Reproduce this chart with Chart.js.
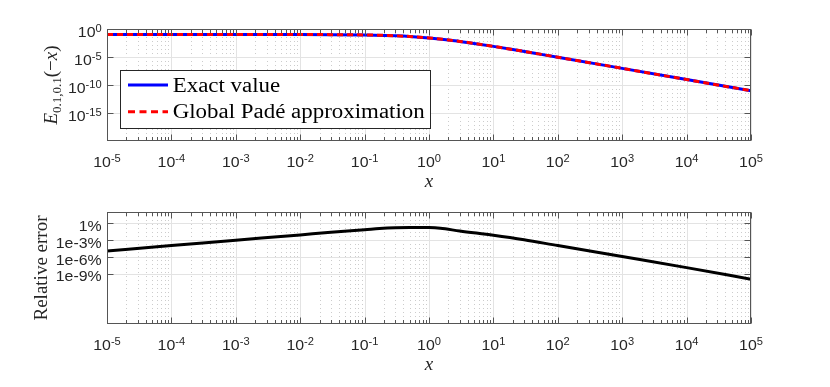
<!DOCTYPE html>
<html>
<script src="https://cdn.jsdelivr.net/npm/chart.js"></script>
<style type="text/css">
  body { margin: 0; background: #fff; }
  .panel { position: absolute; left: 0; width: 830px; }
</style>
<body>
  <div class="panel" style="top:0; height:200px"><canvas id="topChart"></canvas></div>
  <div class="panel" style="top:200px; height:187px"><canvas id="errChart"></canvas></div>

  <script>
    // tick labels
    const xTickExp = [-5, -4, -3, -2, -1, 0, 1, 2, 3, 4, 5];
    const topYTickExp = [0, -5, -10, -15];
    const errTicks = [1, 1e-3, 1e-6, 1e-9];
    const errTickLabels = ['1%', '1e-3%', '1e-6%', '1e-9%'];

    // E_{0.1,0.1}(-x)
    const xVals = [1e-5, 1e-4, 1e-3, 1e-2, 3e-2, 0.1, 0.2, 0.3, 0.5, 1, 2, 3, 5, 10, 20, 50, 100, 1e3, 1e4, 1e5];
    const exactVals = [0.1051, 0.1051, 0.1049, 0.1030, 0.0989, 0.0863, 0.0721, 0.0610, 0.0454, 0.0251, 0.0113, 0.0061, 0.00267, 7.85e-4, 2.14e-4, 3.61e-5, 9.19e-6, 9.34e-8, 9.36e-10, 9.36e-12];
    const padeVals = [0.1051, 0.1051, 0.1049, 0.1030, 0.0989, 0.0863, 0.0721, 0.0610, 0.0454, 0.0251, 0.0113, 0.0061, 0.00267, 7.85e-4, 2.14e-4, 3.61e-5, 9.19e-6, 9.34e-8, 9.36e-10, 9.36e-12];

    // relative error in %, lower panel
    const errX = [1e-5, 1e-4, 1e-3, 1e-2, 3e-2, 0.1, 0.17, 0.3, 0.5, 1, 1.5, 3, 10, 30, 100, 1e3, 1e4, 1e5];
    const errVals = [1.12e-5, 1.0e-4, 9.1e-4, 8.1e-3, 0.024, 0.066, 0.112, 0.158, 0.178, 0.166, 0.126, 0.040, 7.1e-3, 1.12e-3, 1.0e-4, 1.1e-6, 1.17e-8, 1.0e-10];

    const INK = '#262626';
    const SX = 1.06;  // the figure is a little wider than the fonts
    const TICK_FONT = '15px "Liberation Sans", Arial, Helvetica, sans-serif';
    const SUP_FONT = '10.5px "Liberation Sans", Arial, Helvetica, sans-serif';
    const SERIF = '"Liberation Serif", "Times New Roman", serif';

    const majorX = xTickExp.map(e => Math.pow(10, e));
    const minorX = [];
    majorX.slice(0, -1).forEach(d => { for (let m = 2; m < 10; m++) minorX.push(d * m); });

    function line(ctx, x0, y0, x1, y1) {
      ctx.beginPath(); ctx.moveTo(x0, y0); ctx.lineTo(x1, y1); ctx.stroke();
    }
    function widthOf(ctx, s, font, sx) {
      ctx.save(); ctx.font = font; const w = ctx.measureText(s).width * sx; ctx.restore(); return w;
    }
    function stretched(ctx, s, x, y, font, sx) {
      ctx.save();
      ctx.font = font; ctx.translate(x, y); ctx.scale(sx, 1);
      ctx.textAlign = 'left'; ctx.textBaseline = 'alphabetic';
      ctx.fillText(s, 0, 0);
      ctx.restore();
    }
    function tickLabel(ctx, base, sup, x, y, align) {
      const wb = widthOf(ctx, base, TICK_FONT, SX);
      const ws = sup ? widthOf(ctx, sup, SUP_FONT, SX) : 0;
      const x0 = align === 'center' ? x - (wb + ws) / 2 : x - wb - ws;
      stretched(ctx, base, x0, y, TICK_FONT, SX);
      if (sup) stretched(ctx, sup, x0 + wb, y - 5, SUP_FONT, SX);
    }
    function rotatedPieces(ctx, pieces, baseX, cy) {
      let total = 0;
      pieces.forEach(p => { ctx.font = p.font; p.w = ctx.measureText(p.t).width; total += p.w; });
      ctx.save();
      ctx.translate(baseX, cy); ctx.rotate(-Math.PI / 2);
      ctx.textAlign = 'left'; ctx.textBaseline = 'alphabetic';
      let x = -total / 2;
      pieces.forEach(p => { ctx.font = p.font; ctx.fillText(p.t, x, p.dy || 0); x += p.w; });
      ctx.restore();
    }

    // MATLAB-like box, grid, ticks and labels drawn from the chart's own scales
    function makeFrame(cfg) {
      return {
        id: 'frame',
        beforeDatasetsDraw(chart) {
          const { ctx, chartArea: a, scales: { x, y } } = chart;
          ctx.save();
          ctx.lineWidth = 1;
          ctx.strokeStyle = '#cccccc';
          ctx.setLineDash([1, 3]);
          minorX.forEach(v => { const px = Math.round(x.getPixelForValue(v)) + 0.5; line(ctx, px, a.top, px, a.bottom); });
          ctx.setLineDash([]);
          ctx.strokeStyle = '#e3e3e3';
          majorX.forEach(v => { const px = Math.round(x.getPixelForValue(v)) + 0.5; line(ctx, px, a.top, px, a.bottom); });
          cfg.yTicks.forEach(t => { const py = Math.round(y.getPixelForValue(t.v)) + 0.5; line(ctx, a.left, py, a.right, py); });
          ctx.restore();
        },
        afterDatasetsDraw(chart) {
          const { ctx, chartArea: a, scales: { x, y } } = chart;
          ctx.save();
          ctx.strokeStyle = '#555';
          ctx.lineWidth = 1;
          const L = Math.round(a.left) + 0.5, R = Math.round(a.right) - 0.5;
          const T = Math.round(a.top) + 0.5, B = Math.round(a.bottom) - 0.5;
          ctx.strokeRect(L, T, R - L, B - T);
          // ticks
          minorX.forEach(v => { const px = Math.round(x.getPixelForValue(v)) + 0.5; line(ctx, px, B, px, B - 3.5); line(ctx, px, T, px, T + 3.5); });
          majorX.forEach(v => { const px = Math.round(x.getPixelForValue(v)) + 0.5; line(ctx, px, B, px, B - 6); line(ctx, px, T, px, T + 6); });
          cfg.yTicks.forEach(t => { const py = Math.round(y.getPixelForValue(t.v)) + 0.5; line(ctx, L, py, L + 6, py); line(ctx, R, py, R - 6, py); });

          ctx.fillStyle = INK;
          xTickExp.forEach((e, i) => tickLabel(ctx, '10', String(e), x.getPixelForValue(majorX[i]), a.bottom + 26, 'center'));
          cfg.yTicks.forEach(t => tickLabel(ctx, t.base, t.sup, a.left - 5.3, y.getPixelForValue(t.v) + 7.7, 'right'));

          // axis titles
          ctx.font = 'italic 19px ' + SERIF;
          ctx.textAlign = 'center';
          ctx.fillText('x', (a.left + a.right) / 2, a.bottom + 46);
          rotatedPieces(ctx, cfg.yTitle, cfg.yTitleX, (a.top + a.bottom) / 2);

          if (cfg.legend) {
            const lx0 = a.left + 13.5, ly0 = a.top + 41.5, lx1 = a.left + 323.5, ly1 = a.top + 99.5;
            ctx.fillStyle = '#fff';
            ctx.fillRect(lx0, ly0, lx1 - lx0, ly1 - ly0);
            ctx.strokeStyle = INK;
            ctx.strokeRect(lx0, ly0, lx1 - lx0, ly1 - ly0);
            const ds = chart.data.datasets;
            const legFont = '20px ' + SERIF;
            const longest = ds.map(d => d.label).reduce((m, s) => s.length > m.length ? s : m, '');
            const sxLeg = 252 / widthOf(ctx, longest, legFont, 1);
            ds.forEach((d, i) => {
              const cy = a.top + 56 + i * 26.7;
              ctx.strokeStyle = d.borderColor;
              ctx.lineWidth = 3;
              ctx.setLineDash(d.legendDash || []);
              line(ctx, a.left + 21, cy, a.left + 61, cy);
              ctx.setLineDash([]);
              ctx.fillStyle = '#000';
              stretched(ctx, d.label, a.left + 65.7, cy + 6.7, legFont, sxLeg);
            });
          }
          ctx.restore();
        }
      };
    }

    const commonOptions = (pad, yMin, yMax) => ({
      responsive: true,
      maintainAspectRatio: false,
      animation: false,
      devicePixelRatio: 1,
      layout: { padding: pad },
      plugins: { legend: { display: false }, tooltip: { enabled: false } },
      elements: { point: { radius: 0 } },
      scales: {
        x: { type: 'logarithmic', min: 1e-5, max: 1e5, display: false },
        y: { type: 'logarithmic', min: yMin, max: yMax, display: false }
      }
    });

    new Chart(document.getElementById('topChart'), {
      type: 'line',
      data: {
        datasets: [{
          label: 'Exact value',
          data: xVals.map((x, i) => ({ x: x, y: exactVals[i] })),
          borderColor: '#0000ff',
          borderWidth: 3,
          cubicInterpolationMode: 'monotone',
          order: 2
        }, {
          label: 'Global Padé approximation',
          data: xVals.map((x, i) => ({ x: x, y: padeVals[i] })),
          borderColor: '#ff0000',
          borderWidth: 3,
          borderDash: [6, 4],
          legendDash: [7, 4.5],
          cubicInterpolationMode: 'monotone',
          order: 1
        }]
      },
      options: commonOptions({ left: 107, right: 79, top: 29, bottom: 59 }, 1e-20, 1),
      plugins: [makeFrame({
        yTicks: topYTickExp.map(e => ({ v: Math.pow(10, e), base: '10', sup: String(e) })),
        yTitle: [
          { t: 'E', font: 'italic 19px ' + SERIF },
          { t: '0.1,0.1', font: '13px ' + SERIF, dy: 4 },
          { t: '(', font: '19px ' + SERIF },
          { t: '\u2212', font: '19px ' + SERIF },
          { t: 'x', font: 'italic 19px ' + SERIF },
          { t: ')', font: '19px ' + SERIF }
        ],
        yTitleX: 57,
        legend: true
      })]
    });

    new Chart(document.getElementById('errChart'), {
      type: 'line',
      data: {
        datasets: [{
          label: 'Relative error',
          data: errX.map((x, i) => ({ x: x, y: errVals[i] })),
          borderColor: '#000',
          borderWidth: 3,
          cubicInterpolationMode: 'monotone'
        }]
      },
      options: commonOptions({ left: 107, right: 79, top: 12, bottom: 63 }, 1e-18, 1e2),
      plugins: [makeFrame({
        yTicks: errTicks.map((v, i) => ({ v: v, base: errTickLabels[i], sup: '' })),
        yTitle: [{ t: 'Relative error', font: '19px ' + SERIF }],
        yTitleX: 46.5,
        legend: false
      })]
    });
  </script>
</body>
</html>
